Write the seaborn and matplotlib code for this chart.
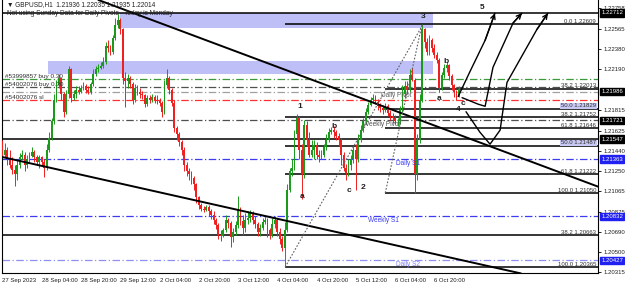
import matplotlib
matplotlib.use("Agg")
import matplotlib.pyplot as plt
import numpy as np
import pandas as pd
import seaborn as sns

# ---------------- data (GBPUSD H1) ----------------
first_open = 1.2150
closes = [1.2140, 1.2145, 1.2136, 1.2131, 1.2126, 1.2122, 1.2131, 1.2138, 1.2140, 1.2131,
          1.2136, 1.2139, 1.2143, 1.2138, 1.2134, 1.2138, 1.2134, 1.2128, 1.2145, 1.2156,
          1.2171, 1.2191, 1.2205, 1.2211, 1.2196, 1.2180, 1.2196, 1.2219, 1.2193, 1.2196,
          1.2200, 1.2198, 1.2202, 1.2204, 1.2200, 1.2198, 1.2206, 1.2215, 1.2219, 1.2220,
          1.2222, 1.2226, 1.2241, 1.2239, 1.2235, 1.2248, 1.2260, 1.2265, 1.2256, 1.2211,
          1.2208, 1.2211, 1.2206, 1.2191, 1.2202, 1.2198, 1.2196, 1.2195, 1.2187, 1.2193,
          1.2191, 1.2194, 1.2191, 1.2190, 1.2188, 1.2180, 1.2205, 1.2211, 1.2200, 1.2188,
          1.2165, 1.2159, 1.2152, 1.2145, 1.2131, 1.2125, 1.2122, 1.2119, 1.2113, 1.2101,
          1.2094, 1.2090, 1.2089, 1.2092, 1.2088, 1.2085, 1.2080, 1.2075, 1.2066, 1.2065,
          1.2071, 1.2080, 1.2077, 1.2064, 1.2069, 1.2075, 1.2090, 1.2079, 1.2073, 1.2080,
          1.2082, 1.2086, 1.2080, 1.2076, 1.2069, 1.2073, 1.2078, 1.2080, 1.2071, 1.2065,
          1.2076, 1.2080, 1.2069, 1.2062, 1.2054, 1.2071, 1.2108, 1.2125, 1.2128, 1.2159,
          1.2174, 1.2145, 1.2122, 1.2168, 1.2154, 1.2140, 1.2145, 1.2149, 1.2140, 1.2138,
          1.2140, 1.2147, 1.2154, 1.2161, 1.2163, 1.2161, 1.2158, 1.2154, 1.2140, 1.2128,
          1.2123, 1.2131, 1.2136, 1.2145, 1.2136, 1.2154, 1.2163, 1.2171, 1.2180, 1.2186,
          1.2191, 1.2193, 1.2189, 1.2185, 1.2183, 1.2182, 1.2185, 1.2179, 1.2176, 1.2174,
          1.2171, 1.2171, 1.2182, 1.2196, 1.2204, 1.2200, 1.2214, 1.2209, 1.2122, 1.2154,
          1.2191, 1.2256, 1.2244, 1.2235, 1.2246, 1.2239, 1.2232, 1.2228, 1.2202, 1.2214,
          1.2220, 1.2223, 1.2213, 1.2205, 1.2198, 1.2194, 1.22014]
highs = [1.2154, 1.2151, 1.2147, 1.2145, 1.2138, 1.2131, 1.2136, 1.2142, 1.2145, 1.2143,
         1.2140, 1.2143, 1.2147, 1.2145, 1.2140, 1.2140, 1.2139, 1.2136, 1.2150, 1.2161,
         1.2174, 1.2196, 1.2209, 1.2215, 1.2211, 1.2198, 1.2200, 1.2222, 1.2220, 1.2200,
         1.2204, 1.2204, 1.2205, 1.2207, 1.2206, 1.2204, 1.2207, 1.2219, 1.2222, 1.2224,
         1.2226, 1.2231, 1.2244, 1.2246, 1.2242, 1.2251, 1.2267, 1.2270, 1.2267, 1.2257,
         1.2217, 1.2215, 1.2213, 1.2207, 1.2206, 1.2205, 1.2202, 1.2199, 1.2196, 1.2195,
         1.2195, 1.2196, 1.2195, 1.2195, 1.2193, 1.2190, 1.2209, 1.2219, 1.2213, 1.2202,
         1.2191, 1.2167, 1.2161, 1.2154, 1.2147, 1.2134, 1.2128, 1.2125, 1.2121, 1.2114,
         1.2102, 1.2096, 1.2093, 1.2094, 1.2094, 1.2090, 1.2088, 1.2082, 1.2077, 1.2071,
         1.2073, 1.2085, 1.2082, 1.2079, 1.2073, 1.2079, 1.2102, 1.2092, 1.2085, 1.2086,
         1.2088, 1.2089, 1.2088, 1.2084, 1.2078, 1.2076, 1.2082, 1.2084, 1.2082, 1.2073,
         1.2082, 1.2084, 1.2082, 1.2073, 1.2065, 1.2078, 1.2113, 1.2128, 1.2136, 1.2163,
         1.2178, 1.2176, 1.2150, 1.2172, 1.2171, 1.2161, 1.2154, 1.2154, 1.2152, 1.2145,
         1.2145, 1.2150, 1.2159, 1.2165, 1.2166, 1.2167, 1.2163, 1.2160, 1.2156, 1.2143,
         1.2132, 1.2136, 1.2140, 1.2148, 1.2150, 1.2159, 1.2168, 1.2174, 1.2183, 1.2189,
         1.2194, 1.2196, 1.2195, 1.2192, 1.2188, 1.2186, 1.2188, 1.2187, 1.2182, 1.2179,
         1.2177, 1.2174, 1.2185, 1.2205, 1.2208, 1.2208, 1.2219, 1.2220, 1.2211, 1.2159,
         1.2196, 1.22609, 1.2257, 1.2248, 1.2251, 1.2248, 1.2243, 1.2235, 1.2230, 1.2217,
         1.2224, 1.2226, 1.2224, 1.2215, 1.2206, 1.2200, 1.22035]
lows = [1.2138, 1.2138, 1.2131, 1.2128, 1.2122, 1.2111, 1.2117, 1.2128, 1.2136, 1.2125,
        1.2128, 1.2134, 1.2138, 1.2134, 1.2131, 1.2128, 1.2130, 1.2120, 1.2126, 1.2143,
        1.2154, 1.2169, 1.2189, 1.2202, 1.2191, 1.2175, 1.2178, 1.2193, 1.2189, 1.2191,
        1.2193, 1.2196, 1.2197, 1.2200, 1.2197, 1.2196, 1.2196, 1.2204, 1.2213, 1.2217,
        1.2219, 1.2220, 1.2224, 1.2235, 1.2232, 1.2233, 1.2246, 1.2257, 1.2252, 1.2206,
        1.2184, 1.2202, 1.2202, 1.2187, 1.2189, 1.2195, 1.2193, 1.2192, 1.2184, 1.2185,
        1.2188, 1.2189, 1.2188, 1.2187, 1.2185, 1.2175, 1.2178, 1.2202, 1.2196, 1.2185,
        1.2161, 1.2154, 1.2148, 1.2140, 1.2125, 1.2121, 1.2117, 1.2113, 1.2108, 1.2096,
        1.2090, 1.2088, 1.2087, 1.2088, 1.2084, 1.2081, 1.2076, 1.2072, 1.2062, 1.2061,
        1.2064, 1.2069, 1.2073, 1.2055, 1.2060, 1.2066, 1.2073, 1.2075, 1.2066, 1.2069,
        1.2076, 1.2078, 1.2076, 1.2073, 1.2065, 1.2065, 1.2071, 1.2076, 1.2064, 1.2062,
        1.2064, 1.2073, 1.2065, 1.2058, 1.2051, 1.20365, 1.2069, 1.2106, 1.2121, 1.2126,
        1.2156, 1.2136, 1.2099, 1.2119, 1.2148, 1.2138, 1.2138, 1.2136, 1.2136, 1.2134,
        1.2136, 1.2138, 1.2145, 1.2152, 1.2159, 1.2156, 1.2154, 1.2148, 1.2131, 1.2125,
        1.2117, 1.2121, 1.2126, 1.2133, 1.2108, 1.2134, 1.2152, 1.2161, 1.2169, 1.2178,
        1.2185, 1.2188, 1.2187, 1.2182, 1.2180, 1.2178, 1.2180, 1.2176, 1.2172, 1.2170,
        1.2169, 1.2167, 1.2169, 1.2180, 1.2193, 1.2196, 1.2198, 1.2208, 1.21050, 1.2117,
        1.2151, 1.2189, 1.2239, 1.2232, 1.2232, 1.2235, 1.2230, 1.2225, 1.2198, 1.2200,
        1.2211, 1.2217, 1.2209, 1.2200, 1.2194, 1.2191, 1.21935]

# x axis labels every 16 bars
xtick_labels = ["27 Sep 2023", "28 Sep 04:00", "28 Sep 20:00", "29 Sep 12:00", "2 Oct 04:00",
                "2 Oct 20:00", "3 Oct 12:00", "4 Oct 04:00", "4 Oct 20:00", "5 Oct 12:00",
                "6 Oct 04:00", "6 Oct 20:00"]
ytick_values = [1.22758, 1.22565, 1.22380, 1.22190, 1.21815, 1.21625, 1.21440, 1.21250,
                1.21065, 1.20875, 1.20690, 1.20500, 1.20315]

# boxed price labels on the right axis
box_black = [1.22712, 1.21986, 1.21721, 1.21547]
box_blue = [1.21363, 1.20832, 1.20427]

# full-width solid lines
solid_full = [1.22712, 1.21547, 1.20663]

# fibonacci sets: (level name, price)
fib_a_levels = ["0.0", "38.2", "50.0", "61.8", "100.0"]
fib_a_prices = [1.22609, 1.21752, 1.21487, 1.21222, 1.20365]
fib_a_start = 115.2
fib_b_levels = ["38.2", "50.0", "61.8", "100.0"]
fib_b_prices = [1.22013, 1.21829, 1.21646, 1.21050]
fib_b_start = 156.0
fib_c_level, fib_c_price = "38.2", 1.20663

# pivot lines
pivot_names = ["Daily Pivot", "Weekly Pivot", "Daily S1", "Weekly S1", "Daily S2"]
pivot_prices = [1.21986, 1.21721, 1.21363, 1.20832, 1.20427]
pivot_text_x = [154.3, 147.0, 160.3, 149.0, 160.4]

# order lines
order_labels = ["#53999857 buy 0.30", "#54002076 buy 0.30", "#54002076 sl"]
order_prices = [1.22100, 1.22027, 1.21910]

# supply boxes (start bar, end bar, low, high)
zone_start = [48.0, 18.7]
zone_end = [175.5, 175.5]
zone_low = [1.22574, 1.22150]
zone_high = [1.22712, 1.22270]

# trend lines (bar, price)
trend_a_x = [39.1, 242.7]
trend_a_y = [1.22832, 1.21108]
trend_b_x = [-0.8, 211.3]
trend_b_y = [1.21385, 1.20306]
dot_a_x = [115.2, 171.4]
dot_a_y = [1.20365, 1.22609]
dot_b_x = [156.0, 171.0]
dot_b_y = [1.21050, 1.22609]

# hand drawn projection arrows (bar, price)
arrow1_x = [185.7, 190.5, 196.7, 200.7]
arrow1_y = [1.2194, 1.2217, 1.2246, 1.2271]
arrow2_x = [187.3, 193.8, 196.7, 199.9, 208.1, 211.7]
arrow2_y = [1.2193, 1.2187, 1.2185, 1.2221, 1.2262, 1.2271]
arrow3_x = [188.9, 194.6, 198.7, 202.8, 205.6, 217.8, 222.3]
arrow3_y = [1.2180, 1.2161, 1.2150, 1.2163, 1.2207, 1.2256, 1.2271]

# wave labels
wave_text = ["1", "2", "3", "4", "5", "a", "b", "c", "a", "b", "c"]
wave_x = [121.3, 147.0, 171.4, 185.7, 195.4, 122.1, 135.2, 141.3, 177.9, 180.8, 187.7]
wave_y = [1.2185, 1.2110, 1.2268, 1.2182, 1.2276, 1.2102, 1.2166, 1.2107, 1.2192, 1.2226, 1.2188]

# ---------------- drawing ----------------
sns.set_style("white")
plt.rcParams["font.family"] = ["Liberation Sans", "DejaVu Sans"]
FS = 4.3

fig = plt.figure(figsize=(6.25, 2.83), dpi=100)
ax = fig.add_axes([2 / 625, 10 / 283, 596 / 625, 273 / 283])
XMAX = 242.7
ax.set_xlim(-0.2, XMAX)
ax.set_ylim(1.20310, 1.22832)

n = len(closes)
xs = np.arange(n)
opens = [first_open] + closes[:-1]
df = pd.DataFrame({"x": xs, "open": opens, "high": highs, "low": lows, "close": closes})
df["up"] = df["close"] >= df["open"]

# zones
for s, e, lo, hi in zip(zone_start, zone_end, zone_low, zone_high):
    ax.fill_between([s, e], lo, hi, color="#bfbff7", lw=0, zorder=1)

# horizontal lines
for p in solid_full:
    ax.axhline(p, color="black", lw=1.1, zorder=2)
for p in fib_a_prices:
    ax.hlines(p, fib_a_start, XMAX, color="black", lw=1.1, zorder=2)
for p in fib_b_prices:
    ax.hlines(p, fib_b_start, XMAX, color="black", lw=1.1, zorder=2)

pivot_colors = ["#a0a0a0", "#505050", "#3c3cf0", "#3c3cf0", "#9090f0"]
for p, c in zip(pivot_prices, pivot_colors):
    ax.axhline(p, color=c, lw=0.9, ls=(0, (6, 2, 1, 2)), zorder=2)
order_colors = ["#3c9a3c", "#505050", "#ff3030"]
for p, c in zip(order_prices, order_colors):
    ax.axhline(p, color=c, lw=0.9, ls=(0, (6, 2, 1, 2)), zorder=2)

# trend lines via seaborn
tl = pd.DataFrame({"x": trend_a_x + trend_b_x, "y": trend_a_y + trend_b_y,
                   "line": ["a"] * 2 + ["b"] * 2})
sns.lineplot(data=tl, x="x", y="y", units="line", estimator=None, color="black",
             lw=1.4, ax=ax, zorder=6, sort=False)
dl = pd.DataFrame({"x": dot_a_x + dot_b_x, "y": dot_a_y + dot_b_y,
                   "line": ["a"] * 2 + ["b"] * 2})
sns.lineplot(data=dl, x="x", y="y", units="line", estimator=None, color="#606060",
             lw=0.8, ls=(0, (1.5, 1.5)), ax=ax, zorder=6, sort=False)

# candles
wick_col = np.where(df["up"], "#1a9a1a", "#f02020")
ax.vlines(df["x"], df["low"], df["high"], colors=wick_col, lw=0.7, zorder=4)
body_lo = np.minimum(df["open"], df["close"])
body_h = np.maximum(np.abs(df["close"] - df["open"]), 0.00003)
ax.bar(df["x"], body_h, bottom=body_lo, width=0.75, color=wick_col, lw=0, zorder=5)

# arrows
for axs, ays in [(arrow1_x, arrow1_y), (arrow2_x, arrow2_y), (arrow3_x, arrow3_y)]:
    ax.plot(axs, ays, color="black", lw=1.0, zorder=7)
    ax.annotate("", xy=(axs[-1], ays[-1]), xytext=(axs[-2], ays[-2]),
                arrowprops=dict(arrowstyle="->", color="black", lw=1.0,
                                mutation_scale=8, shrinkA=0, shrinkB=0), zorder=7)

# wave labels
for t, x, y in zip(wave_text, wave_x, wave_y):
    ax.text(x, y, t, fontsize=6, fontweight="bold", ha="center", va="center",
            color="#202020", zorder=8)

# pivot texts
ptxt_colors = ["#606060", "#505050", "#3c3cf0", "#3c3cf0", "#8080f0"]
for name, p, x, c in zip(pivot_names, pivot_prices, pivot_text_x, ptxt_colors):
    ax.text(x, p - 0.00006, name, fontsize=FS + 0.4, color=c, ha="left", va="top", zorder=8)

# fib texts
def fib_text(lv, p):
    kw = {}
    if lv == "50.0":
        kw["bbox"] = dict(facecolor="#c8c8f4", edgecolor="none", pad=0.4)
    ax.text(XMAX - 0.8, p + 0.00002, f"{lv} {p:.5f}", fontsize=FS, color="#303030",
            ha="right", va="bottom", zorder=8, **kw)

for lv, p in zip(fib_a_levels, fib_a_prices):
    fib_text(lv, p)
for lv, p in zip(fib_b_levels, fib_b_prices):
    fib_text(lv, p)
fib_text(fib_c_level, fib_c_price)

# order texts
for lab, p in zip(order_labels, order_prices):
    ax.text(1.2, p + 0.00002, lab, fontsize=FS + 0.3, color="#303030", ha="left",
            va="bottom", zorder=8)

# header
ax.text(0.008, 0.995, "\u25bc GBPUSD,H1  1.21936 1.22035 1.21935 1.22014", transform=ax.transAxes,
        fontsize=FS + 0.4, color="#202020", ha="left", va="top", zorder=9)
ax.text(0.008, 0.965, "Not using Sunday Data for Daily Pivots - Today is Monday",
        transform=ax.transAxes, fontsize=FS + 0.4, color="#202020", ha="left", va="top", zorder=9)

# axes styling
ax.set_xticks(np.arange(0, 16 * len(xtick_labels), 16))
ax.set_xticklabels(xtick_labels, ha="left", fontsize=FS)
ax.yaxis.tick_right()
ax.set_yticks(ytick_values)
ax.set_yticklabels([f"{v:.5f}" for v in ytick_values], fontsize=FS)
ax.tick_params(axis="both", length=2.5, width=0.6, pad=1.2, color="black", labelcolor="#202020")
ax.tick_params(axis="x", pad=1)
for sp in ["left", "bottom", "right"]:
    ax.spines[sp].set_color("black")
    ax.spines[sp].set_linewidth(0.8)
ax.spines["top"].set_visible(False)
ax.set_xlabel("")
ax.set_ylabel("")
if ax.legend_:
    ax.legend_.remove()

for p in box_black:
    ax.annotate(f"{p:.5f}", xy=(1.0, p), xycoords=("axes fraction", "data"),
                xytext=(2.2, 0), textcoords="offset points", fontsize=FS, color="white",
                va="center", ha="left", zorder=10, annotation_clip=False,
                bbox=dict(boxstyle="square,pad=0.2", facecolor="black", edgecolor="black"))
for p in box_blue:
    ax.annotate(f"{p:.5f}", xy=(1.0, p), xycoords=("axes fraction", "data"),
                xytext=(2.2, 0), textcoords="offset points", fontsize=FS, color="white",
                va="center", ha="left", zorder=10, annotation_clip=False,
                bbox=dict(boxstyle="square,pad=0.2", facecolor="#2020f0", edgecolor="#2020f0"))

fig.savefig("out.png", dpi=100)
